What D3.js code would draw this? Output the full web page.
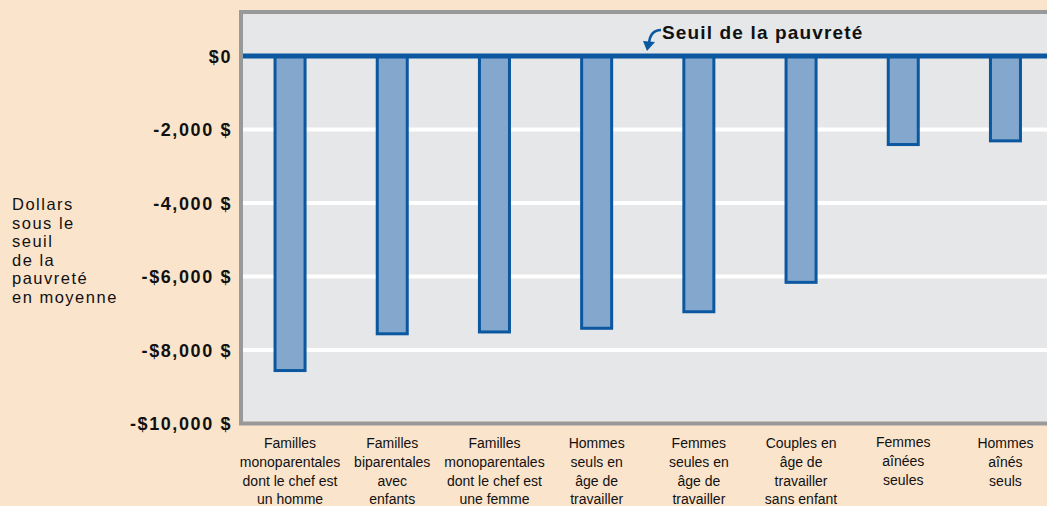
<!DOCTYPE html>
<html><head><meta charset="utf-8">
<script src="https://cdn.jsdelivr.net/npm/d3@7"></script>
<style>
html,body{margin:0;padding:0;background:#fbe4cc;}
svg{display:block;font-family:"Liberation Sans",Arial,sans-serif;}
</style></head>
<body><svg id="c" width="1047" height="506"></svg>
<script>
const categories = [
  ["Familles","monoparentales","dont le chef est","un homme"],
  ["Familles","biparentales","avec","enfants"],
  ["Familles","monoparentales","dont le chef est","une femme"],
  ["Hommes","seuls en","âge de","travailler"],
  ["Femmes","seules en","âge de","travailler"],
  ["Couples en","âge de","travailler","sans enfant"],
  ["Femmes","aînées","seules"],
  ["Hommes","aînés","seuls"]
];
const values = [-8600, -7600, -7550, -7450, -7000, -6200, -2450, -2350];
const tickValues = [0, -2000, -4000, -6000, -8000, -10000];
const tickLabels = ["$0", "-2,000 $", "-4,000 $", "-$6,000 $", "-$8,000 $", "-$10,000 $"];
const yTitle = ["Dollars","sous le","seuil","de la","pauvreté","en moyenne"];
const annotation = "Seuil de la pauvreté";

const svg = d3.select("#c");
const plotL = 243, plotT = 14, plotB = 421, plotR = 1060;

const y = d3.scaleLinear().domain([0, -10000]).range([56, 423.5]);
const x = d3.scaleBand().domain(d3.range(categories.length))
  .range([244, 1051.5]).paddingInner(0.677).paddingOuter(0.289);

// plot background
svg.append("rect").attr("x", plotL).attr("y", plotT).attr("width", plotR - plotL).attr("height", plotB - plotT)
  .attr("fill", "#e6e7e9");
// frame
svg.append("path").attr("d", `M${plotR},12 H241 V423.5 H${plotR}`)
  .attr("fill", "none").attr("stroke", "#97999b").attr("stroke-width", 4);

// gridlines
svg.append("g").selectAll("line").data(tickValues.filter(v => v !== 0 && v !== -10000)).join("line")
  .attr("x1", plotL).attr("x2", plotR).attr("y1", d => y(d)).attr("y2", d => y(d))
  .attr("stroke", "#ffffff").attr("stroke-width", 4);

// y axis labels
const yAxis = d3.axisLeft(y).tickValues(tickValues).tickFormat((d, i) => tickLabels[i]).tickSize(0).tickPadding(0);
const ga = svg.append("g").attr("transform", "translate(232,0)").call(yAxis);
ga.select(".domain").remove();
ga.selectAll("text").attr("font-size", 18).attr("font-weight", "bold").attr("fill", "#111")
  .attr("letter-spacing", 1.6)
  .attr("font-family", "'Liberation Sans',Arial,sans-serif").attr("dy", "0.35em");

// bars
svg.append("g").selectAll("rect").data(values).join("rect")
  .attr("x", (d, i) => x(i) + 1.5)
  .attr("width", x.bandwidth() - 3)
  .attr("y", y(0))
  .attr("height", d => y(d) - y(0) - 1.5)
  .attr("fill", "#84a8cd").attr("stroke", "#0b57a0").attr("stroke-width", 3);

// zero line
svg.append("line").attr("x1", plotL).attr("x2", plotR).attr("y1", y(0)).attr("y2", y(0))
  .attr("stroke", "#0b57a0").attr("stroke-width", 5);

// annotation
svg.append("text").attr("x", 662).attr("y", 39).attr("font-size", 19).attr("font-weight", "bold")
  .attr("letter-spacing", 1.15).attr("fill", "#111").text(annotation);
svg.append("path").attr("d", "M661,30 C654,30 650,34 649,43")
  .attr("fill", "none").attr("stroke", "#0b57a0").attr("stroke-width", 2.5);
svg.append("path").attr("d", "M643,41 L655,42 L647,51 Z").attr("fill", "#0b57a0");

// y title
svg.append("text").attr("font-size", 16.5).attr("letter-spacing", 1.5).attr("fill", "#111")
  .selectAll("tspan").data(yTitle).join("tspan")
  .attr("x", 12).attr("y", (d, i) => 210 + i * 18.6).text(d => d);

// x labels
const xl = svg.append("g");
categories.forEach((lines, i) => {
  const t = xl.append("text").attr("font-size", 14).attr("fill", "#111").attr("text-anchor", "middle");
  t.selectAll("tspan").data(lines).join("tspan")
    .attr("x", x(i) + x.bandwidth() / 2)
    .attr("y", (d, j) => 448 + j * 18.8 - (i === 6 ? 1 : 0))
    .text(d => d);
});
</script></body></html>
